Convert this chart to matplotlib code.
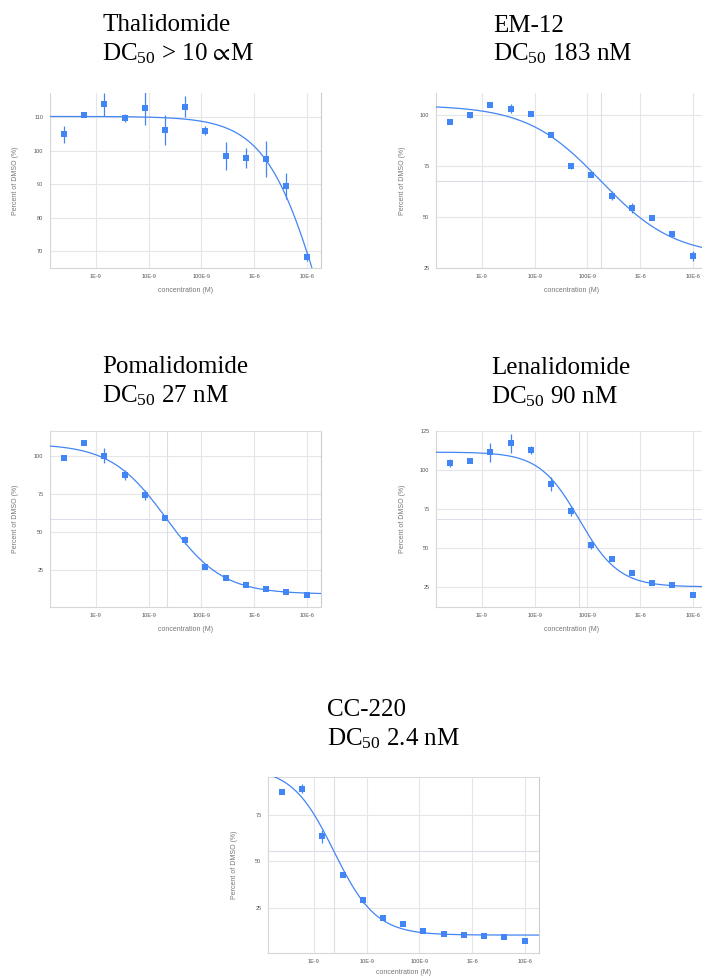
import numpy as np
import matplotlib
matplotlib.use('Agg')
import matplotlib.pyplot as plt
from matplotlib.ticker import FixedLocator, FixedFormatter, NullLocator

plt.rcParams['mathtext.fontset'] = 'custom'
plt.rcParams['mathtext.rm'] = 'Liberation Serif'
plt.rcParams['mathtext.it'] = 'Liberation Serif:italic'
plt.rcParams['mathtext.bf'] = 'Liberation Serif:bold'
plt.rcParams['mathtext.fallback'] = 'stix'

# ---------------- data ----------------
conc = [2.5e-10, 6.0e-10, 1.45e-9, 3.5e-9, 8.5e-9, 2.05e-8, 5.0e-8,
        1.2e-7, 2.9e-7, 7.0e-7, 1.7e-6, 4.1e-6, 1.0e-5]
x_ticks = [1e-9, 1e-8, 1e-7, 1e-6, 1e-5]
x_tick_labels = ["1E-9", "10E-9", "100E-9", "1E-6", "10E-6"]

names = ["Thalidomide", "EM-12", "Pomalidomide", "Lenalidomide", "CC-220"]
dc50_labels = ["> 10 $\u221d$M", "183 nM", "27 nM", "90 nM", "2.4 nM"]

thal_y = [104.9, 110.8, 113.9, 109.8, 112.8, 106.2, 113.2, 106.0, 98.5, 97.8, 97.6, 89.5, 68.4]
thal_err = [2.6, 0.5, 3.5, 1.1, 5.1, 4.5, 3.1, 1.4, 4.3, 3.0, 5.3, 4.0, 1.3]

em12_y = [96.9, 100.3, 105.3, 103.3, 100.5, 90.2, 74.9, 70.9, 60.6, 54.5, 49.6, 41.9, 30.9]
em12_err = [0.4, 1.6, 0.5, 2.3, 0.5, 0.6, 1.2, 0.6, 2.0, 2.5, 0.4, 0.8, 2.5]

poma_y = [98.5, 108.3, 100.0, 87.5, 74.3, 58.8, 44.7, 27.0, 19.5, 14.9, 12.1, 10.5, 8.3]
poma_err = [0.3, 0.3, 5.0, 3.3, 3.3, 0.5, 2.6, 1.0, 0.6, 0.8, 0.6, 0.6, 0.4]

lena_y = [104.5, 105.8, 111.3, 117.1, 112.8, 90.8, 73.8, 52.2, 42.9, 34.3, 27.7, 26.2, 19.8]
lena_err = [2.5, 1.2, 6.0, 6.3, 2.7, 4.5, 3.0, 2.5, 0.8, 1.5, 0.8, 0.6, 0.5]

cc220_y = [87.3, 88.9, 63.4, 42.5, 29.1, 19.8, 16.4, 12.9, 11.3, 10.7, 10.2, 9.3, 7.5]
cc220_err = [0.4, 2.4, 3.4, 0.6, 1.5, 0.6, 0.5, 0.4, 0.4, 0.4, 0.4, 0.4, 0.4]

# four-parameter logistic fit parameters: top, bottom, IC50, hill
fit_top = [110.3, 105.0, 108.0, 111.5, 100.3]
fit_bottom = [0.0, 30.6, 9.0, 25.3, 10.5]
fit_ic50 = [1.95e-5, 1.8e-7, 2.2e-8, 7.0e-8, 2.4e-9]
fit_hill = [0.82, 0.62, 0.82, 1.15, 1.09]
show_guides = [False, True, True, True, True]

y_limits = [(65, 117.3), (25, 111), (0.5, 116.4), (12.4, 125), (0.9, 95.2)]
y_ticks = [[70, 80, 90, 100, 110], [25, 50, 75, 100], [25, 50, 75, 100],
           [25, 50, 75, 100, 125], [25, 50, 75]]
x_limits = (10 ** -9.87, 10 ** -4.73)

# ---------------- layout (pixels) ----------------
W, H = 702, 977
fig = plt.figure(figsize=(W / 100, H / 100), dpi=100)

axes_px = [(50, 93, 321, 268), (436, 93, 707, 268),
           (50, 431, 321, 607), (436, 431, 707, 607),
           (268, 777, 539, 953)]
title_px = [(102, 31, 60), (493, 31.5, 60.5), (102, 373, 402.5),
            (491, 374, 403), (327, 715.5, 745.5)]
xlabel_off = [22.7, 22.7, 22.7, 22.7, 20.0]
top_spine = [False, False, True, False, True]

BLUE = '#4285f4'
GRID = '#e6e6e6'
GUIDE = '#dcdde8'

ys = [thal_y, em12_y, poma_y, lena_y, cc220_y]
errs = [thal_err, em12_err, poma_err, lena_err, cc220_err]

xfit = np.logspace(-10.2, -4.4, 500)

for i in range(5):
    l, t, r, b = axes_px[i]
    ax = fig.add_axes([l / W, 1 - b / H, (r - l) / W, (b - t) / H])
    ax.set_xscale('log')
    ax.set_xlim(*x_limits)
    ax.set_ylim(*y_limits[i])
    ax.xaxis.set_major_locator(FixedLocator(x_ticks))
    ax.xaxis.set_major_formatter(FixedFormatter(x_tick_labels))
    ax.xaxis.set_minor_locator(NullLocator())
    ax.yaxis.set_major_locator(FixedLocator(y_ticks[i]))
    ax.yaxis.set_minor_locator(NullLocator())
    ax.tick_params(axis='both', length=0, labelsize=4, labelcolor='#555555',
                   labelfontfamily='Liberation Sans')
    ax.tick_params(axis='x', pad=4.5)
    ax.tick_params(axis='y', pad=4.8)
    ax.grid(True, color=GRID, lw=0.8, zorder=0)
    ax.set_axisbelow(True)
    for s in ['left', 'bottom']:
        ax.spines[s].set_color('#d6d6d6')
        ax.spines[s].set_linewidth(0.8)
    ax.spines['right'].set_color('#cccccc')
    ax.spines['right'].set_linewidth(0.8)
    ax.spines['top'].set_visible(top_spine[i])
    ax.spines['top'].set_color('#dddddd')
    ax.spines['top'].set_linewidth(0.8)

    ax.set_xlabel('concentration (M)', fontsize=5, color='#777777',
                  family='Liberation Sans', va='center')
    ax.xaxis.set_label_coords(0.5, -xlabel_off[i] / (b - t))
    ax.set_ylabel('Percent of DMSO (%)', fontsize=5, color='#777777',
                  family='Liberation Sans', va='center')
    ax.yaxis.set_label_coords(-34.0 / (r - l), 0.5)

    T, B, c50, h = fit_top[i], fit_bottom[i], fit_ic50[i], fit_hill[i]
    if show_guides[i]:
        ax.axvline(c50, color=GUIDE, lw=0.8, zorder=1)
        ax.axhline((T + B) / 2, color=GUIDE, lw=0.8, zorder=1)

    yfit = B + (T - B) / (1 + (xfit / c50) ** h)
    ax.plot(xfit, yfit, color=BLUE, lw=0.9, zorder=3)
    ax.errorbar(conc, ys[i], yerr=errs[i], fmt='s', color=BLUE, ms=4.3,
                mew=0, elinewidth=0.9, capsize=1.7, capthick=0.9, zorder=4)

    tx, ty1, ty2 = title_px[i]
    fig.text(tx / W, 1 - ty1 / H, names[i], fontsize=18,
             family='Liberation Serif', ha='left', va='baseline')
    fig.text(tx / W, 1 - ty2 / H, 'DC$_{50}$ ' + dc50_labels[i], fontsize=18,
             family='Liberation Serif', ha='left', va='baseline')

fig.savefig('out.png', dpi=100)
